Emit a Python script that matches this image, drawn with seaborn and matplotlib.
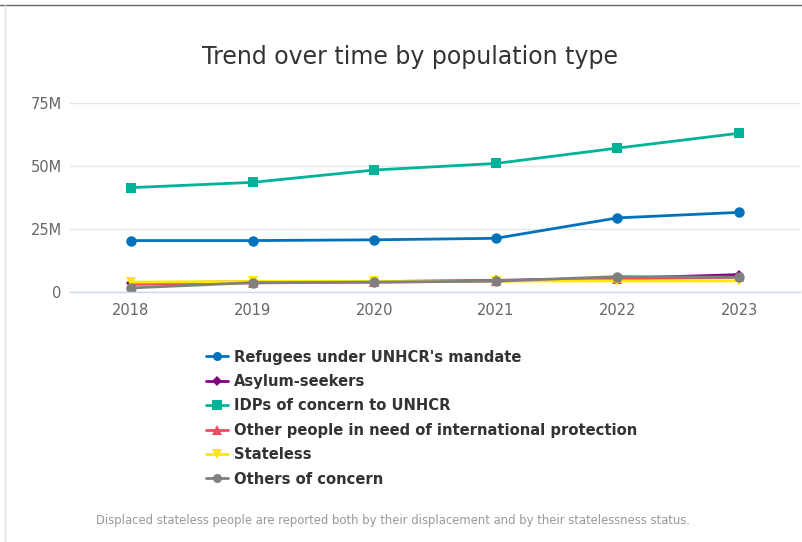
import pandas as pd
import seaborn as sns
import matplotlib.pyplot as plt
from matplotlib.lines import Line2D
from matplotlib.ticker import FuncFormatter

# Valores (milhões)
years = [2018, 2019, 2020, 2021, 2022, 2023]
refugees = [20.4, 20.4, 20.7, 21.3, 29.4, 31.6]
asylum_seekers = [3.5, 4.1, 4.1, 4.6, 5.4, 6.9]
idps = [41.4, 43.5, 48.4, 51.0, 57.1, 63.0]
other_intl = [3.0, 3.6, 3.9, 4.4, 5.2, 5.8]
stateless = [3.9, 4.2, 4.2, 4.3, 4.4, 4.4]
others = [1.6, 3.7, 3.9, 4.3, 6.1, 5.9]

series = {
    "Refugees under UNHCR's mandate": refugees,
    "Asylum-seekers": asylum_seekers,
    "IDPs of concern to UNHCR": idps,
    "Other people in need of international protection": other_intl,
    "Stateless": stateless,
    "Others of concern": others,
}
colors = ["#0072BC", "#7D007F", "#00B398", "#EF4A60", "#FFE900", "#808080"]
marker_list = ["o", "D", "s", "^", "v", "o"]
names = list(series.keys())

rows = []
for name, vals in series.items():
    for i, y in enumerate(years):
        rows.append({"year": i, "value": vals[i] * 1e6, "type": name})
df = pd.DataFrame(rows)

sns.set_style("white")
plt.rcParams["font.family"] = ["DejaVu Sans"]

fig = plt.figure(figsize=(8.02, 5.42), dpi=100)
ax = fig.add_axes([0.0873, 0.4613, 0.9102, 0.3487])

sns.lineplot(
    data=df, x="year", y="value", hue="type", style="type",
    hue_order=names, style_order=names,
    palette=dict(zip(names, colors)),
    markers=dict(zip(names, marker_list)),
    dashes=False, linewidth=2, markersize=7.5, markeredgewidth=0, ax=ax,
)
# losango um pouco menor, como no original
for ln in ax.lines:
    if ln.get_marker() == "D":
        ln.set_markersize(5.5)

ax.set_xlim(-0.5, len(years) - 0.5)
ax.set_ylim(0, 75e6)
ax.set_xticks(range(len(years)))
ax.set_xticklabels([str(y) for y in years])
ax.set_yticks([0, 25e6, 50e6, 75e6])
ax.yaxis.set_major_formatter(FuncFormatter(lambda v, p: "0" if v == 0 else f"{int(v / 1e6)}M"))
ax.tick_params(axis="both", length=0, labelsize=10.5, labelcolor="#666666")
ax.tick_params(axis="x", pad=8)
ax.tick_params(axis="y", pad=6)
ax.set_xlabel("")
ax.set_ylabel("")
ax.grid(axis="y", color="#e6e6e6", linewidth=1)
ax.set_axisbelow(True)
for s in ["top", "right", "left"]:
    ax.spines[s].set_visible(False)
ax.spines["bottom"].set_color("#ccd6eb")
ax.spines["bottom"].set_linewidth(1)

handles, labels = ax.get_legend_handles_labels()
ax.get_legend().remove()
for h in handles:
    h.set_markersize(6.5 if h.get_marker() != "D" else 5)
leg = fig.legend(
    handles, labels, loc="upper left", bbox_to_anchor=(0.249, 0.366),
    frameon=False, prop={"weight": "bold", "size": 10.6},
    handlelength=1.5, handletextpad=0.4, labelspacing=0.64, borderaxespad=0,
)
for t in leg.get_texts():
    t.set_color("#333333")

fig.text(0.511, 0.895, "Trend over time by population type", ha="center", va="center",
         fontsize=17, color="#333333")
fig.text(0.49, 0.039, "Displaced stateless people are reported both by their displacement and by their statelessness status.",
         ha="center", va="center", fontsize=8.4, color="#999999")

# bordas do cartão
fig.add_artist(Line2D([0, 1], [0.991, 0.991], color="#666666", linewidth=1))
fig.add_artist(Line2D([0.006, 0.006], [0, 0.991], color="#e0e0e0", linewidth=1))

fig.savefig("out.png", dpi=100)
plt.close()
